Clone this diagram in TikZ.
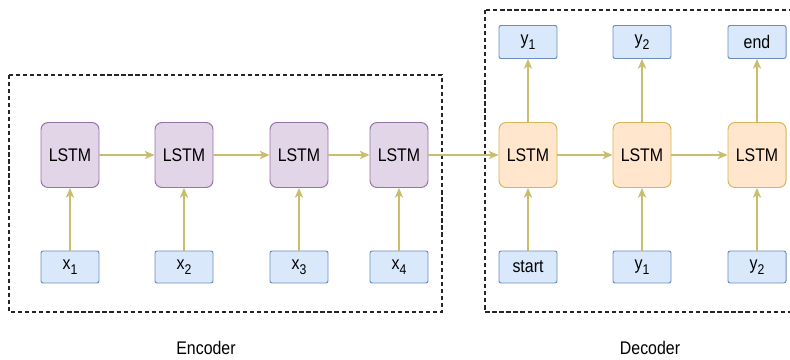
\documentclass[tikz,border=0pt]{standalone}
\usepackage{fontspec}
\setmainfont{Liberation Sans}[FakeStretch=0.87]
\usetikzlibrary{arrows.meta}
\definecolor{encfill}{HTML}{E1D5E7}
\definecolor{encline}{HTML}{9673A6}
\definecolor{decfill}{HTML}{FFE6CC}
\definecolor{decline}{HTML}{D6B656}
\definecolor{iofill}{HTML}{DAE8FC}
\definecolor{ioline}{HTML}{6C8EBF}
\definecolor{flowline}{RGB}{200,190,110}
\newcommand{\idx}[2]{#1\raisebox{-0.5ex}{\fontsize{10}{10}\selectfont #2}}
\tikzset{
  cell/.style={rounded corners=5pt,line width=0.7pt,minimum width=58*0.025cm,minimum height=65*0.025cm,inner sep=0pt,font=\fontsize{13}{15}\selectfont},
  lstmenc/.style={cell,draw=encline,fill=encfill},
  lstmdec/.style={cell,draw=decline,fill=decfill},
  iobox/.style={draw=ioline,fill=iofill,rounded corners=1.5pt,line width=0.7pt,minimum width=58*0.025cm,minimum height=32*0.025cm,inner sep=0pt,font=\fontsize{13}{15}\selectfont},
  flow/.style={draw=flowline,line width=0.9pt,-{Stealth[length=7pt,width=6pt,inset=2pt]}},
  group/.style={draw=black!85,line width=0.9pt,dash pattern=on 3pt off 2pt}
}
\begin{document}
\begin{tikzpicture}[x=0.025cm,y=-0.025cm]
\clip (0,0) rectangle (790,360);
%
\draw[group] (9,75) rectangle (442,312);
\draw[group] (485,10) rectangle (815,312);
\node[font=\fontsize{13}{15}\selectfont] (enc) at (206,348) {Encoder};
\node[font=\fontsize{13}{15}\selectfont] (dec) at (650,348) {Decoder};
%
\foreach \i/\xx in {1/70,2/184,3/299,4/399}{
  \node[lstmenc] (e\i) at (\xx,155) {LSTM};
  \node[iobox] (x\i) at (\xx,267) {\idx{x}{\i}};
  \draw[flow] (x\i) -- (e\i);
}
\foreach \i/\j in {1/2,2/3,3/4} \draw[flow] (e\i) -- (e\j);
%
\foreach \i/\xx/\inp/\outp in {1/528/start/{\idx{y}{1}},2/642/{\idx{y}{1}}/{\idx{y}{2}},3/757/{\idx{y}{2}}/end}{
  \node[lstmdec] (d\i) at (\xx,155) {LSTM};
  \node[iobox] (di\i) at (\xx,267) {\inp};
  \node[iobox,minimum height=33*0.025cm] (do\i) at (\xx,42) {\outp};
  \draw[flow] (di\i) -- (d\i);
  \draw[flow] (d\i) -- (do\i);
}
\foreach \i/\j in {1/2,2/3} \draw[flow] (d\i) -- (d\j);
\draw[flow] (e4) -- (d1);
\end{tikzpicture}
\end{document}
